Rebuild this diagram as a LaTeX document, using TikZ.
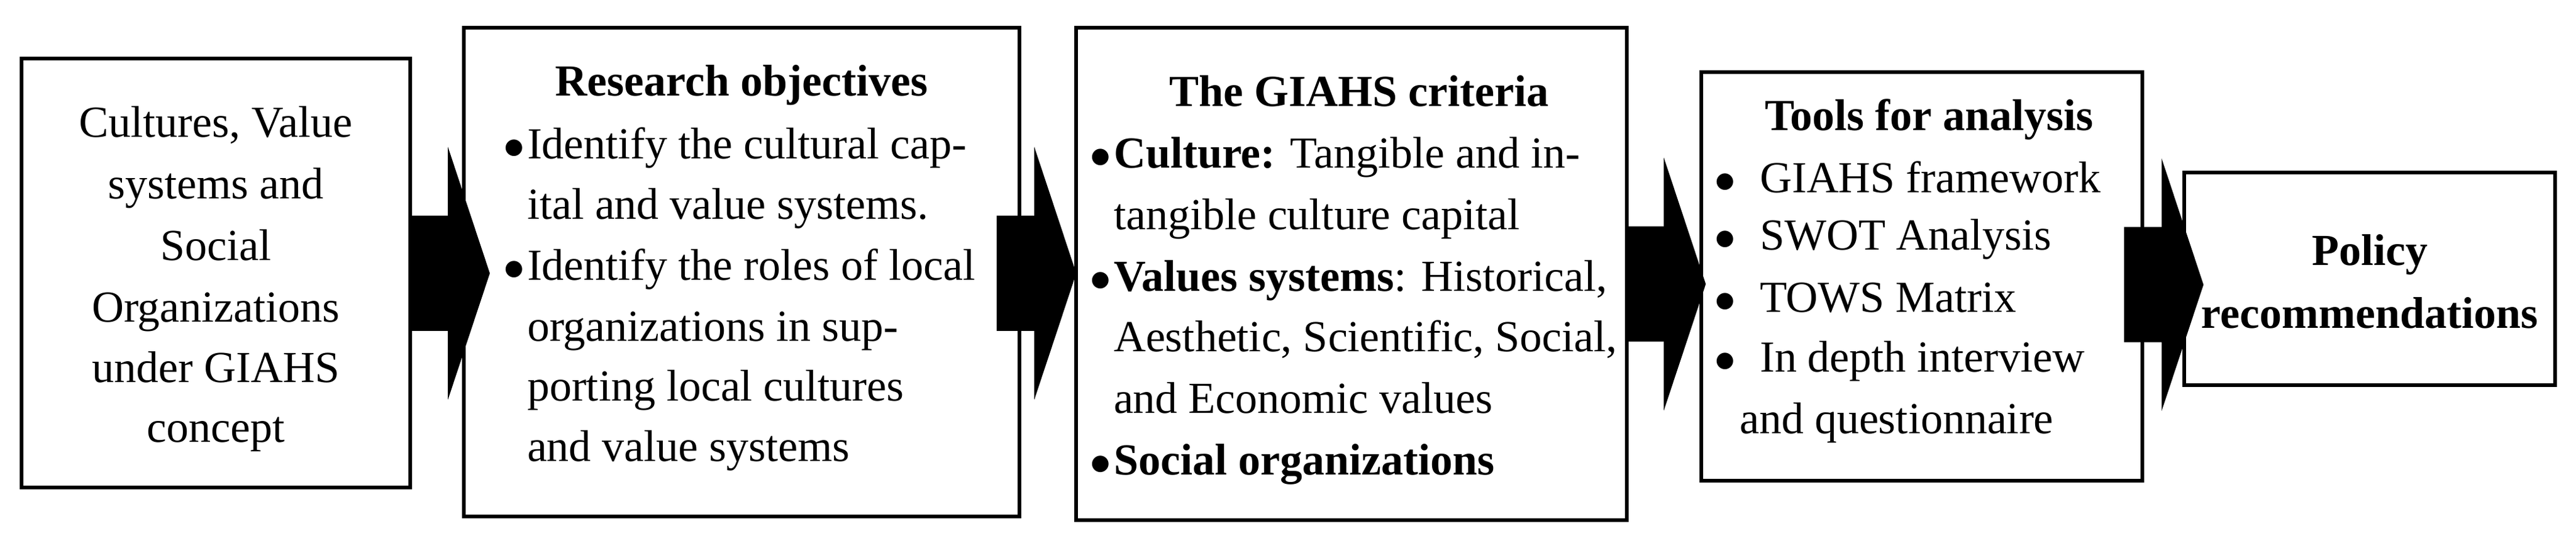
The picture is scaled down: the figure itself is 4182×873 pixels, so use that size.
\documentclass[tikz,border=0pt]{standalone}
\usepackage{fontspec}
\setmainfont{Liberation Serif}
\usetikzlibrary{calc,fit}
\newcommand\blockarrowat[1]{\fill[blk] (#1) ++(0,-93.5) -- ++(61,0) -- ++(0,-111.5) -- ++(68,205) -- ++(-68,205) -- ++(0,-111.5) -- ++(-61,0) -- cycle;}
\newcommand\bul{\llap{$\bullet$\hspace{1pt}}}
\newcommand\bulw{\llap{$\bullet$\hspace{9.75pt}}}
\begin{document}
\begin{tikzpicture}[x=0.25pt,y=-0.25pt,
  box/.style={draw=black, line width=1.6pt, inner sep=0pt, rectangle},
  txt/.style={inner sep=0pt, outer sep=0pt, font=\fontsize{18}{22}\selectfont},
  head/.style={txt, font=\fontsize{18}{22}\selectfont\bfseries, anchor=base},
  ctr/.style={txt, anchor=base},
  lft/.style={txt, anchor=base west},
  blk/.style={fill=black, draw=none}]
\useasboundingbox (0,0) rectangle (4182,873);
% boxes
\node[box, fit={(35,95) (666,791)}] (b1) {};
\node[box, fit={(753,45) (1655,838)}] (b2) {};
\node[box, fit={(1747,45) (2641,844)}] (b3) {};
\node[box, fit={(2762,117) (3478,780)}] (b4) {};
\node[box, fit={(3546,280) (4148,625)}] (b5) {};
% block arrows
\coordinate (a1) at ($(b1.east)+(-3,0.5)$);
\coordinate (a2) at ($(b2.east)+(-40,2)$);
\coordinate (a3) at ($(b3.east)+(-4,16.5)$);
\coordinate (a4) at ($(b4.east)+(-33,13.5)$);
\blockarrowat{a1}
\blockarrowat{a2}
\blockarrowat{a3}
\blockarrowat{a4}
% box 1 text
\node[ctr] (t11) at (350.5,223) {Cultures, Value};
\node[ctr] (t12) at (350.5,323) {systems and};
\node[ctr] (t13) at (350.5,423) {Social};
\node[ctr] (t14) at (350.5,523) {Organizations};
\node[ctr] (t15) at (350.5,621) {under GIAHS};
\node[ctr] (t16) at (350.5,718) {concept};
% box 2 text
\node[head] (t20) at (1204,156) {Research objectives};
\node[lft] (t21) at (856,258) {\bul Identify the cultural cap-};
\node[lft] (t22) at (856,356) {ital and value systems.};
\node[lft] (t23) at (856,455) {\bul Identify the roles of local};
\node[lft] (t24) at (856,554) {organizations in sup-};
\node[lft] (t25) at (856,651) {porting local cultures};
\node[lft] (t26) at (856,749) {and value systems};
% box 3 text
\node[head] (t30) at (2206,173) {The GIAHS criteria};
\node[lft] (t31) at (1808,273) {\bul\textbf{Culture:} Tangible and in-};
\node[lft] (t32) at (1808,373) {tangible culture capital};
\node[lft] (t33) at (1808,473) {\bul\textbf{Values systems}: Historical,};
\node[lft] (t34) at (1808,571) {Aesthetic, Scientific, Social,};
\node[lft] (t35) at (1808,671) {and Economic values};
\node[lft] (t36) at (1808,771) {\bul\textbf{Social organizations}};
% box 4 text
\node[head] (t40) at (3132,212) {Tools for analysis};
\node[lft] (t41) at (2857,313) {\bulw GIAHS framework};
\node[lft] (t42) at (2857,406) {\bulw SWOT Analysis};
\node[lft] (t43) at (2857,507) {\bulw TOWS Matrix};
\node[lft] (t44) at (2857,604) {\bulw In depth interview};
\node[lft] (t45) at (2824,704) {and questionnaire};
% box 5 text
\node[head] (t51) at (3847,431) {Policy};
\node[head] (t52) at (3847,533) {recommendations};
\end{tikzpicture}
\end{document}
